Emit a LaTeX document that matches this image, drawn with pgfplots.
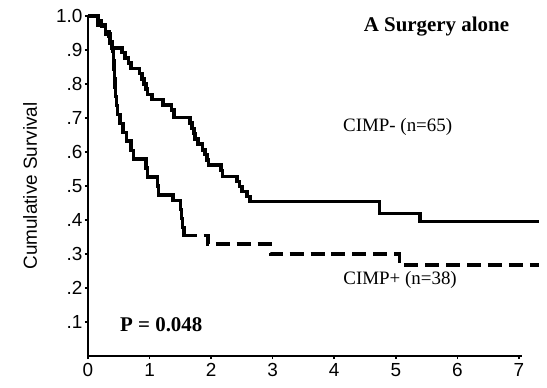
\documentclass[border=0pt]{standalone}
\usepackage{fontspec}
\setmainfont{Liberation Serif}
\newfontfamily\arial{Liberation Sans}
\usepackage{pgfplots}
\pgfplotsset{compat=1.18}
\pgfplotstableread{
x y
0 1.000
0.16 0.985
0.22 0.970
0.28 0.955
0.34 0.940
0.37 0.925
0.39 0.906
0.55 0.892
0.60 0.877
0.66 0.862
0.70 0.846
0.84 0.831
0.88 0.815
0.91 0.800
0.94 0.785
0.97 0.769
1.04 0.754
1.22 0.738
1.36 0.723
1.40 0.702
1.66 0.685
1.69 0.669
1.72 0.654
1.74 0.638
1.79 0.623
1.86 0.606
1.90 0.592
1.93 0.577
1.96 0.562
2.16 0.546
2.18 0.528
2.42 0.513
2.46 0.498
2.50 0.484
2.58 0.470
2.63 0.454
4.74 0.420
5.39 0.395
7.33 0.395
}\cimpneg
\pgfplotstableread{
x y
0 1.000
0.16 0.974
0.28 0.947
0.36 0.921
0.40 0.895
0.41 0.868
0.42 0.842
0.43 0.816
0.44 0.789
0.45 0.763
0.46 0.737
0.48 0.711
0.52 0.684
0.57 0.658
0.63 0.632
0.70 0.605
0.74 0.579
0.94 0.553
0.97 0.526
1.13 0.500
1.15 0.474
1.38 0.458
1.50 0.431
1.52 0.405
1.54 0.378
1.56 0.355
1.77 0.355
1.88 0.355
1.95 0.329
2.96 0.300
5.06 0.268
7.33 0.268
}\cimppos
\begin{document}
\begin{tikzpicture}
\begin{axis}[
  scale only axis,
  width=434bp, height=340bp,
  xmin=0, xmax=7.05, ymin=0, ymax=1.0,
  axis lines=left,
  axis line style={-, line width=1.6pt},
  clip=false,
  xtick={0,1,2,3,4,5,6,7},
  ytick={0.1,0.2,0.3,0.4,0.5,0.6,0.7,0.8,0.9,1.0},
  yticklabels={.1,.2,.3,.4,.5,.6,.7,.8,.9,1.0},
  tick align=outside,
  major tick length=3bp,
  tick style={line width=1.6pt, black},
  /pgf/number format/assume math mode=true,
  xticklabel style={font=\arial\fontsize{19}{19}\selectfont, yshift=-1bp},
  yticklabel style={font=\arial\fontsize{19}{19}\selectfont, xshift=1bp},
  ylabel={Cumulative Survival},
  every axis y label/.style={at={(axis description cs:-0.1336,0.5)}, rotate=90, anchor=center, font=\arial\fontsize{19}{19}\selectfont},
]
\addplot[const plot, line width=3.4pt, black] table[x=x,y=y] {\cimpneg};
\addplot[const plot, line width=3.4pt, black, restrict x to domain=0:1.77] table[x=x,y=y] {\cimppos};
\addplot[const plot, line width=3.4pt, black, dash pattern=on 14pt off 7pt, restrict x to domain=1.88:7.4] table[x=x,y=y] {\cimppos};
\node[font=\bfseries\fontsize{21}{21}\selectfont, anchor=center] at (axis cs:5.66,0.968) {A Surgery alone};
\node[font=\fontsize{19}{19}\selectfont, anchor=center] at (axis cs:5.03,0.674) {CIMP- (n=65)};
\node[font=\fontsize{19}{19}\selectfont, anchor=center] at (axis cs:5.07,0.224) {CIMP+ (n=38)};
\node[font=\bfseries\fontsize{21}{21}\selectfont, anchor=center] at (axis cs:1.19,0.091) {P = 0.048};
\end{axis}
\pgfresetboundingbox
\path[use as bounding box] (-88bp,-32bp) rectangle (459bp,356bp);
\end{tikzpicture}
\end{document}
